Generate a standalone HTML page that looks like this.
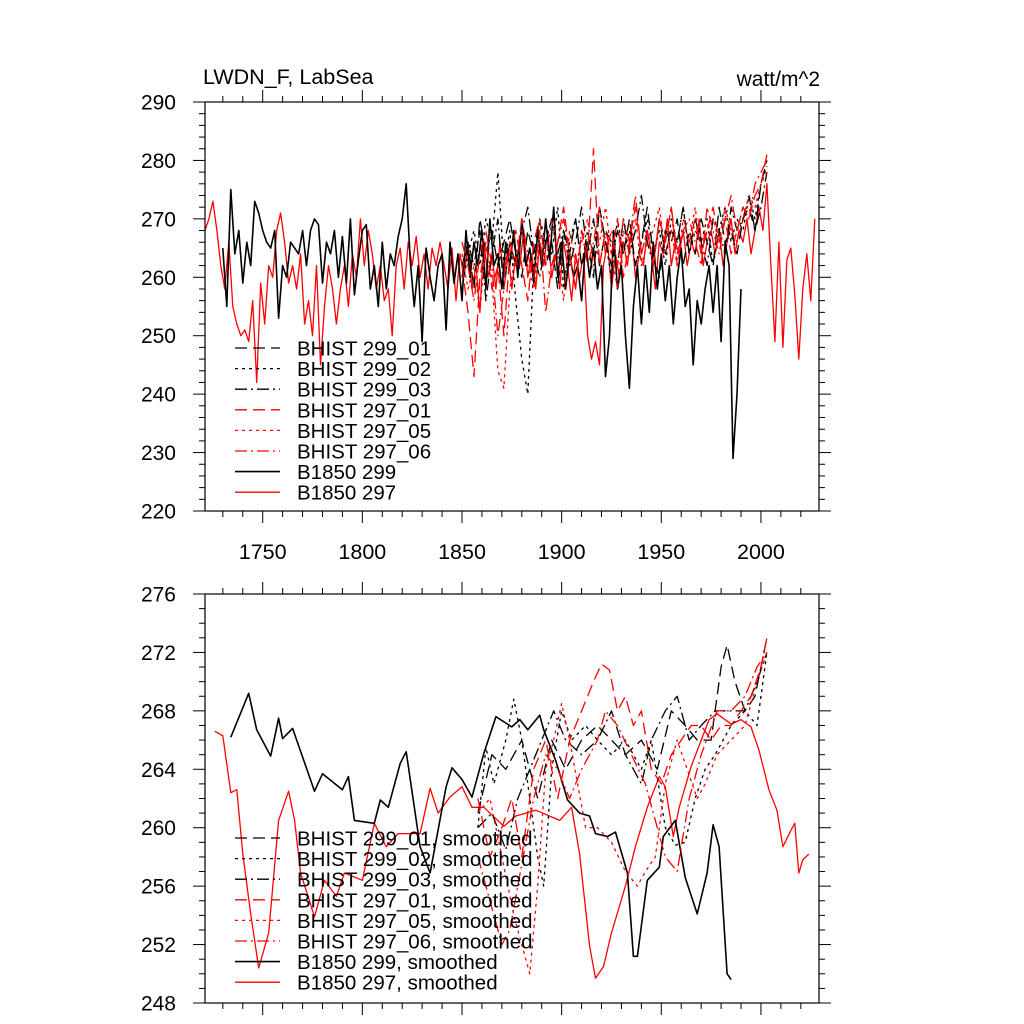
<!DOCTYPE html>
<html><head><meta charset="utf-8"><style>
html,body{margin:0;padding:0;background:#fff;width:1024px;height:1024px;overflow:hidden}
svg text{font-family:"Liberation Sans",Arial,sans-serif;fill:#000}
</style></head><body>
<svg id="chart" width="1024" height="1024" viewBox="0 0 1024 1024" xmlns="http://www.w3.org/2000/svg">
<text x="203" y="84" font-size="21.5">LWDN_F, LabSea</text>
<text x="820" y="86" font-size="21" text-anchor="end">watt/m^2</text>
<g id="top"></g>
<g id="bot"></g>
</svg>
<script>
// ---------- data: top panel (annual) ----------
const b299Start=1730, b299Step=2;
const b1850_299=[265,255,275,264,268,259,266,262,273,271,268,266,265,268,253,262,260,266,265,264,268,262,268,270,269,259,266,264,268,260,267,259,270,257,263,268,269,258,262,255,266,258,264,262,267,270,276,263,255,262,249,265,260,256,262,264,251,266,259,264,256,268,260,266,262,268,258,270,262,264,258,266,262,268,260,270,262,265,259,268,262,270,263,272,260,266,258,264,260,262,256,266,260,265,258,262,243,250,268,258,262,250,241,255,262,252,262,254,266,258,264,256,262,252,260,265,255,258,245,256,252,258,262,254,262,249,266,262,229,240,258];
const b297Start=1721, b297Step=2;
const b1850_297=[268,270,273,268,262,258,266,255,252,250,251,249,256,242,259,252,262,260,268,271,266,259,262,258,264,252,256,250,262,245,255,262,258,252,258,262,255,264,260,270,262,268,264,258,262,256,258,250,262,265,258,266,262,267,260,264,258,265,262,266,
262,258,265,256,264,260,266,258,262,254,266,260,264,258,266,260,265,258,264,262,268,260,264,258,266,262,268,260,264,258,266,262,256,264,260,264,250,246,249,245,262,266,258,264,260,266,262,268,260,264,262,268,264,258,266,264,270,262,266,264,268,262,266,264,270,262,266,268,264,268,262,266,270,264,268,266,270,264,268,272,268,276,262,249,266,248,263,265,257,246,258,264,256,270];
const histStart=1850, histStep=3;
const h299_01=[262,266,258,270,264,268,262,266,270,264,260,268,264,270,262,266,258,268,264,270,262,266,260,272,266,262,268,264,270,262,266,272,264,260,268,266,270,262,268,264,270,266,262,272,266,268,264,270,272,268,276,280];
const h299_02=[258,264,268,262,270,266,278,262,268,256,246,240,262,270,266,264,272,258,266,270,262,268,264,272,266,260,270,264,268,262,266,270,264,268,262,270,266,272,264,268,266,270,262,268,272,266,270,268,274,270,276,279];
const h299_03=[260,266,262,268,256,264,270,258,266,262,268,272,264,260,266,270,264,268,262,266,272,264,270,262,268,266,262,270,264,268,274,266,262,270,264,268,266,272,264,270,266,262,270,268,264,272,268,270,274,268,272,278];
const h297_01=[262,254,243,260,266,258,262,250,264,268,262,256,266,270,262,260,266,272,264,258,268,264,282,262,268,264,270,260,266,272,264,268,262,270,266,272,262,268,266,270,264,268,272,266,270,264,268,272,270,274,276,281];
const h297_05=[264,258,262,254,266,260,244,241,258,264,268,262,258,266,262,270,264,256,268,262,266,270,262,266,272,264,258,268,264,270,262,266,268,272,264,268,262,270,266,272,264,268,270,266,272,268,266,270,274,272,276,278];
const h297_06=[266,262,256,264,268,262,250,258,266,262,270,264,260,268,254,262,266,270,264,258,268,262,266,272,264,268,262,270,266,274,264,268,262,270,266,272,264,268,270,266,262,272,268,264,270,274,268,272,270,276,278,280];
// ---------- data: bottom panel (smoothed) ----------
const sB299Years=[1734,1743,1747,1754,1758,1760,1765,1776,1780,1790,1793,1796,1806,1809,1813,1819,1822,1825,1829,1834,1842,1845,1850,1855,1861,1867,1875,1879,1883,1889,1891,1897,1903,1909,1914,1917,1923,1927,1933,1936,1938,1943,1949,1951,1957,1962,1968,1973,1976,1979,1983,1985];
const sB299Vals=[266.2,269.2,266.7,264.9,267.5,266.1,266.8,262.5,263.7,262.6,263.5,260.5,260.3,261.9,261.4,264.4,265.2,262.4,258.7,256.9,262.8,264.1,263.3,262.1,265.1,267.6,266.9,267.4,266.7,267.7,266.7,264.6,261.9,261,260.8,259.6,259.4,259.7,256.9,251.2,251.2,256.4,257.3,259.4,260.5,256.6,254.1,256.9,260.2,258.7,250,249.6];
const sB297Years=[1726,1730,1734,1737,1740,1744,1748,1753,1758,1763,1766,1769,1776,1781,1787,1791,1800,1806,1812,1818,1823,1829,1834,1838,1844,1850,1855,1861,1871,1877,1887,1899,1905,1909,1914,1917,1921,1925,1932,1937,1943,1949,1952,1956,1959,1965,1970,1974,1978,1985,1990,1995,1999,2004,2008,2011,2015,2017,2019,2021,2024];
const sB297Vals=[266.6,266.3,262.4,262.6,258.2,254.1,250.4,252.8,260.5,262.5,260.5,256.9,253.9,256.4,255.3,256.9,256.4,260.3,258.7,259.6,259.6,259.6,262.7,261,262.1,262.8,261.4,261.4,260.1,260.8,261.2,260.5,261.4,258.2,251.9,249.7,250.5,252.8,256,258.7,261.4,263.5,262.8,259.4,261.4,264.2,266,267.4,267.8,267.1,267.4,266.9,265.3,262.6,261.2,258.7,259.8,260.3,256.9,257.8,258.2];
const s299_01Y=[1858,1865,1872,1880,1888,1895,1902,1910,1918,1925,1932,1940,1948,1955,1962,1968,1975,1980,1983,1987,1992,1997,2003];
const s299_01V=[261,265,264,266,262,266,264,266,267,266,265,266,264,268,267,266,266,271,272.5,270,268,269,273];
const s299_02Y=[1858,1862,1866,1872,1876,1880,1884,1888,1891,1895,1900,1905,1912,1918,1925,1932,1940,1945,1952,1957,1962,1967,1972,1977,1985,1992,1998,2003];
const s299_02V=[260,265.5,263,266,268.8,266,262,258,256,264,268,266,267,266,265,266,264,266,260,258.8,259,262,264,265,267,268,267,272];
const s299_03Y=[1858,1865,1872,1878,1884,1890,1896,1902,1910,1918,1925,1932,1940,1945,1952,1958,1964,1970,1977,1985,1992,1998,2003];
const s299_03V=[260,261,258.5,262,264,266,268,266,265,266,268,265,263,266,268,269,266,267,268,268,268,270,272];
const s297_01Y=[1858,1864,1870,1875,1880,1886,1892,1898,1904,1910,1916,1920,1924,1928,1932,1936,1940,1945,1950,1955,1960,1965,1970,1975,1980,1985,1990,1995,2000,2003];
const s297_01V=[262,258,260,262,258,264,266,262,266,268,270,271.2,270.8,268,269,267,268,264,263,265,266,267,267,266,267,267,268,269,271,273];
const s297_05Y=[1858,1864,1870,1876,1880,1884,1888,1892,1896,1900,1904,1908,1912,1918,1925,1932,1938,1942,1947,1952,1958,1963,1968,1972,1978,1985,1992,1998,2003];
const s297_05V=[261,262,258,254,252,250,256,264,266,268.5,266,263,260,260,259,257,256,257,258,263,266,264,262,263,265,266,267,270,272];
const s297_06Y=[1858,1862,1866,1870,1874,1878,1882,1886,1892,1898,1904,1910,1918,1922,1928,1935,1942,1948,1952,1958,1964,1970,1978,1985,1992,1998,2003];
const s297_06V=[258,256,254,252,253,256,259,262,265,264,262,264,266,268,267,265,263,260,258,257,262,265,268,268,269,271,272];
const topTicksY=[220,230,240,250,260,270,280,290];
const botTicksY=[248,252,256,260,264,268,272,276];
const ticksX=[1750,1800,1850,1900,1950,2000];
const topLegend=["BHIST 299_01","BHIST 299_02","BHIST 299_03","BHIST 297_01","BHIST 297_05","BHIST 297_06","B1850 299","B1850 297"];
const botLegend=["BHIST 299_01, smoothed","BHIST 299_02, smoothed","BHIST 299_03, smoothed","BHIST 297_01, smoothed","BHIST 297_05, smoothed","BHIST 297_06, smoothed","B1850 299, smoothed","B1850 297, smoothed"];

const NS="http://www.w3.org/2000/svg";
const X0=205, X1=819;
const xs=yr=>262.7+(yr-1750)*1.993;
const styles=[
 {c:"#000",d:"12,6",w:1.3},{c:"#000",d:"3,4",w:1.3},{c:"#000",d:"12,4,2,4",w:1.3},
 {c:"#f00",d:"12,6",w:1.3},{c:"#f00",d:"3,4",w:1.3},{c:"#f00",d:"12,4,2,4",w:1.3},
 {c:"#000",d:"",w:1.6},{c:"#f00",d:"",w:1.3}];
function mk(tag,attrs,parent){const e=document.createElementNS(NS,tag);for(const k in attrs)e.setAttribute(k,attrs[k]);parent.appendChild(e);return e;}
function seriesPts(years,vals,ys){return vals.map((v,i)=>xs(years[i]).toFixed(1)+","+ys(v).toFixed(1)).join(" ");}
function regYears(start,step,n){const a=[];for(let i=0;i<n;i++)a.push(start+i*step);return a;}

function panel(g,Y0,Y1,ymin,ymax,ticks,minorStep,series,legend,legY,showX){
 const ys=v=>Y1-(v-ymin)/(ymax-ymin)*(Y1-Y0);
 const cp=mk("clipPath",{id:"cp"+Y0},g);
 mk("rect",{x:X0,y:Y0,width:X1-X0,height:Y1-Y0},cp);
 const sg=mk("g",{"clip-path":"url(#cp"+Y0+")"},g);
 series.forEach((s,i)=>{
  const st=styles[s.k];
  const pl=mk("polyline",{points:seriesPts(s.y,s.v,ys),fill:"none",stroke:st.c,"stroke-width":st.w,"stroke-dasharray":st.d,"stroke-linejoin":"round"},sg);
  
  
 });
 const fr=mk("rect",{x:X0,y:Y0,width:X1-X0,height:Y1-Y0,fill:"none",stroke:"#000","stroke-width":1.2},g);
 
 
 for(let v=ymin;v<=ymax+1e-6;v+=minorStep){
  const y=ys(v);const major=ticks.includes(Math.round(v*100)/100);
  const L=major?12:6;
  mk("line",{x1:X0,x2:X0-L,y1:y,y2:y,stroke:"#000","stroke-width":1},g);
  mk("line",{x1:X1,x2:X1+L,y1:y,y2:y,stroke:"#000","stroke-width":1},g);
 }
 ticks.forEach(v=>{
  const t=mk("text",{x:176,y:ys(v)+7.5,"font-size":21,"text-anchor":"end"},g);
  t.textContent=v;
  
  
 });
 for(let yr=1730;yr<=2020;yr+=10){
  const x=xs(yr);const major=ticksX.includes(yr);const L=major?12:6;
  mk("line",{x1:x,x2:x,y1:Y1,y2:Y1+L,stroke:"#000","stroke-width":1},g);
  mk("line",{x1:x,x2:x,y1:Y0,y2:Y0-L,stroke:"#000","stroke-width":1},g);
 }
 if(showX) ticksX.forEach(yr=>{
  const t=mk("text",{x:xs(yr),y:Y1+48,"font-size":21.5,"text-anchor":"middle"},g);
  t.textContent=yr;
  
  
 });
 legend.forEach((lab,i)=>{
  const st=styles[i];const y=legY+i*20.6;
  const ln=mk("line",{x1:235,x2:280,y1:y,y2:y,stroke:st.c,"stroke-width":st.w,"stroke-dasharray":st.d},g);
  
  
  const t=mk("text",{x:297,y:y+7.5,"font-size":20.5},g);
  t.textContent=lab;
  
  
 });
}
const hy=regYears(histStart,histStep,52);
panel(document.getElementById("top"),102,511,220,290,topTicksY,2,[
 {k:7,y:regYears(b297Start,b297Step,b1850_297.length),v:b1850_297},
 {k:6,y:regYears(b299Start,b299Step,b1850_299.length),v:b1850_299},
 {k:0,y:hy,v:h299_01},{k:1,y:hy,v:h299_02},{k:2,y:hy,v:h299_03},
 {k:3,y:hy,v:h297_01},{k:4,y:hy,v:h297_05},{k:5,y:hy,v:h297_06}
],topLegend,348,true);
panel(document.getElementById("bot"),594,1003,248,276,botTicksY,1,[
 {k:7,y:sB297Years,v:sB297Vals},{k:6,y:sB299Years,v:sB299Vals},
 {k:0,y:s299_01Y,v:s299_01V},{k:1,y:s299_02Y,v:s299_02V},{k:2,y:s299_03Y,v:s299_03V},
 {k:3,y:s297_01Y,v:s297_01V},{k:4,y:s297_05Y,v:s297_05V},{k:5,y:s297_06Y,v:s297_06V}
],botLegend,838,false);
</script>
</body></html>
